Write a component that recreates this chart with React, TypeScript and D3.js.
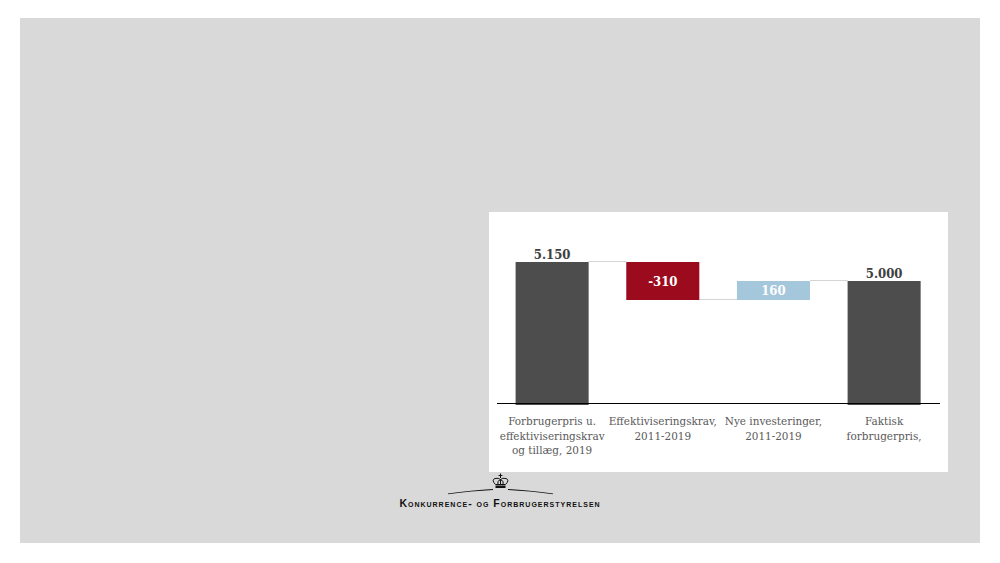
import React, { useEffect, useRef } from 'react';
import * as d3 from 'd3';

const categories = ['start', 'krav', 'invest', 'faktisk'];
const categoryLabels = [
  ['Forbrugerpris u.', 'effektiviseringskrav', 'og tillæg, 2019'],
  ['Effektiviseringskrav,', '2011-2019'],
  ['Nye investeringer,', '2011-2019'],
  ['Faktisk', 'forbrugerpris,'],
];
const barStart = [4000, 5150, 4840, 4000];
const barEnd = [5150, 4840, 5000, 5000];
const barLabels = [5150, -310, 160, 5000];
const barColors = ['#4d4d4d', '#9c0a1e', '#a5c7dc', '#4d4d4d'];
const labelColors = ['#404040', '#ffffff', '#ffffff', '#404040'];

const labelFont = '"DejaVu Serif Condensed", "Liberation Serif", serif';

const App: React.FC = () => {
  const ref = useRef<SVGSVGElement>(null);

  useEffect(() => {
    const svg = d3.select(ref.current);
    svg.selectAll('*').remove();

    // Slide background and white chart panel
    svg.append('rect').attr('x', 20).attr('y', 18).attr('width', 960).attr('height', 525).attr('fill', '#d9d9d9');
    svg.append('rect').attr('x', 489).attr('y', 212).attr('width', 459).attr('height', 260).attr('fill', '#ffffff');

    const x = d3.scaleBand().domain(categories).range([497, 940]).paddingInner(0.34).paddingOuter(0.1715).align(0.49);
    const y = d3.scaleLinear().domain([4000, 5150]).rangeRound([404, 262]);
    const fmt = d3.formatLocale({ decimal: ',', thousands: '.', grouping: [3], minus: '-', currency: ['', ' kr.'] }).format(',d');

    // Connector lines between the bars
    svg.selectAll('.connector')
      .data(categories.slice(0, -1))
      .enter().append('line')
      .attr('class', 'connector')
      .attr('x1', d => x(d)! + x.bandwidth())
      .attr('x2', (d, i) => x(categories[i + 1])!)
      .attr('y1', (d, i) => y(barEnd[i]) - 0.5)
      .attr('y2', (d, i) => y(barEnd[i]) - 0.5)
      .attr('stroke', '#d4d4d4')
      .attr('stroke-width', 1);

    // Bars
    svg.selectAll('.bar')
      .data(categories)
      .enter().append('rect')
      .attr('class', 'bar')
      .attr('x', d => x(d)!)
      .attr('y', (d, i) => y(Math.max(barStart[i], barEnd[i])))
      .attr('width', x.bandwidth())
      .attr('height', (d, i) => Math.abs(y(barStart[i]) - y(barEnd[i])) + (barStart[i] === 4000 ? 1 : 0))
      .attr('fill', (d, i) => barColors[i]);

    // Value labels: totals above the bar, changes inside it
    svg.selectAll('.value')
      .data(categories)
      .enter().append('text')
      .attr('class', 'value')
      .attr('x', d => x(d)! + x.bandwidth() / 2)
      .attr('y', (d, i) => barStart[i] === 4000
        ? y(barEnd[i]) - 3.5
        : (y(barStart[i]) + y(barEnd[i])) / 2 + 4.5)
      .attr('text-anchor', 'middle')
      .attr('font-family', labelFont)
      .attr('font-size', 13)
      .attr('font-weight', 700)
      .attr('fill', (d, i) => labelColors[i])
      .text((d, i) => fmt(barLabels[i]));

    // Category axis
    const axis = svg.append('g')
      .attr('transform', 'translate(0,403.5)')
      .call(d3.axisBottom(x).tickSize(0).offset(0).tickFormat(() => ''));
    axis.select('.domain').attr('stroke', '#000000').attr('stroke-width', 1);

    axis.selectAll<SVGGElement, string>('.tick').each(function (d) {
      const lines = categoryLabels[categories.indexOf(d)];
      d3.select(this).select('text').remove();
      d3.select(this).selectAll('text.cat')
        .data(lines)
        .enter().append('text')
        .attr('class', 'cat')
        .attr('y', (l, i) => 21.5 + i * 14.5)
        .attr('text-anchor', 'middle')
        .attr('font-family', labelFont)
        .attr('font-size', 11.6)
        .attr('fill', '#595959')
        .text(l => l);
    });

    // Logo
    const logo = svg.append('g').attr('fill', '#111111');
    logo.append('path').attr('d', 'M448 493.6 Q472 490 493 489 L493 490 Q472 491 448 494.2 Z');
    logo.append('path').attr('d', 'M553 493.6 Q529 490 508 489 L508 490 Q529 491 553 494.2 Z');
    const crown = logo.append('g').attr('fill', 'none').attr('stroke', '#111111').attr('stroke-width', 1);
    crown.append('path').attr('d', 'M495.5 484.5 Q491 480 495 478.5 Q498.5 477.5 500.5 479.5 Q502.5 477.5 506 478.5 Q510 480 505.5 484.5 Z');
    crown.append('path').attr('d', 'M498 484.5 Q496.5 481 500.5 479.5 Q504.5 481 503 484.5 M500.5 479.5 V484.5');
    logo.append('rect').attr('x', 495.5).attr('y', 485.5).attr('width', 10).attr('height', 2.5);
    logo.append('path').attr('d', 'M500 473.5 H501 V475 H502.4 V476 H501 V478 H500 V476 H498.6 V475 H500 Z');
    logo.append('text')
      .attr('x', 500)
      .attr('y', 506.5)
      .attr('text-anchor', 'middle')
      .attr('font-family', '"Liberation Sans", sans-serif')
      .attr('font-size', 10.5)
      .attr('font-weight', 700)
      .attr('letter-spacing', 1)
      .style('font-variant', 'small-caps')
      .text('Konkurrence- og Forbrugerstyrelsen');
  }, []);

  return <svg ref={ref} width={1000} height={563} style={{ position: 'absolute', left: 0, top: 0 }} />;
};

export default App;
